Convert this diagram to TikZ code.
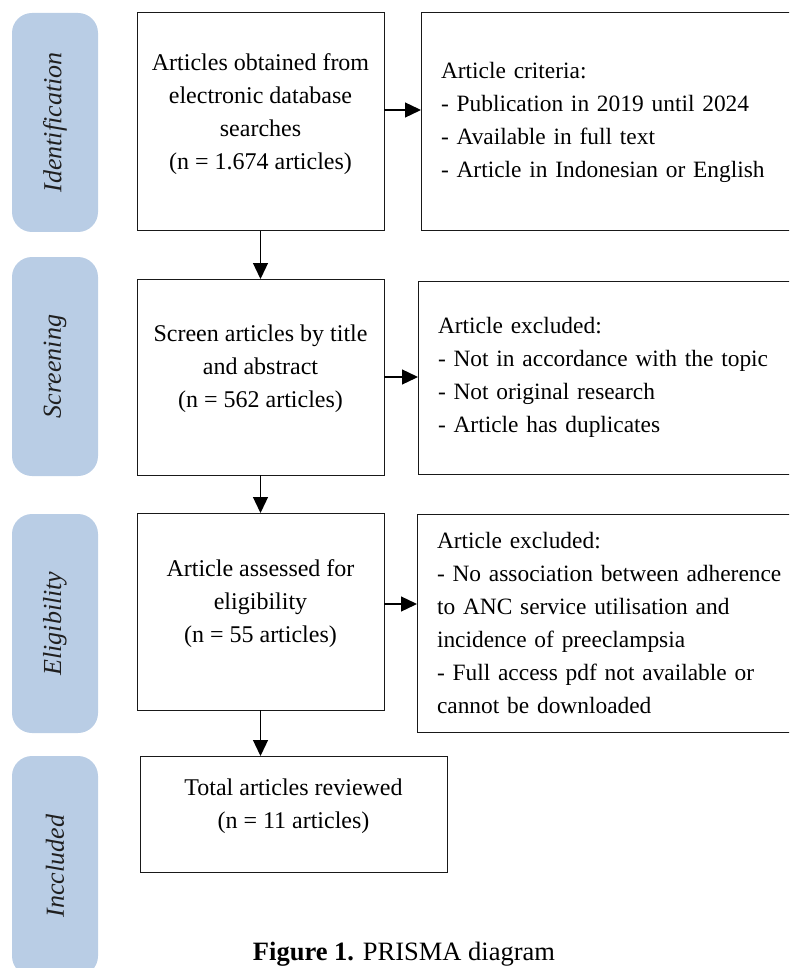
\documentclass[tikz,border=0pt]{standalone}
\usepackage{fontspec}
\setmainfont{Liberation Serif}
\usetikzlibrary{arrows.meta}
\definecolor{barblue}{HTML}{B9CDE5}
\tikzset{stagebar/.style={rotate=90,fill=barblue,rounded corners=20pt,minimum height=86pt,inner sep=0pt,text=black!88,font=\fontsize{26}{30}\selectfont\itshape}}
\tikzset{flowbox/.style={draw=black!90,line width=1pt,inner sep=0pt,outer sep=0pt}}
\tikzset{flowtext/.style={align=center,inner sep=0pt,font=\fontsize{24}{33}\selectfont}}
\tikzset{notebox/.style={draw=black!90,line width=1pt,anchor=west,align=left,text width=360pt,inner xsep=20pt,inner ysep=0pt,outer sep=0pt,font=\fontsize{23.4}{33}\selectfont}}
\tikzset{flowarrow/.style={line width=1.3pt,-{Triangle[length=16pt,width=15pt]}}}

\begin{document}
\begin{tikzpicture}[x=1pt,y=-1pt]
    \useasboundingbox (0,0) rectangle (789,968);
    \clip (0,0) rectangle (789,968);
    \node[stagebar,minimum width=219pt] (identbar) at (55,122.5) {Identification};
    \node[stagebar,minimum width=219pt] (screenbar) at (55,366.5) {Screening};
    \node[stagebar,minimum width=219pt] (eligbar) at (55,623.5) {Eligibility};
    \node[stagebar,minimum width=220pt] (inclbar) at (55,866) {Inccluded};
    \node[flowbox,minimum width=247pt,minimum height=218pt] (ident) at (260.5,122) {};
    \node[flowbox,minimum width=247pt,minimum height=196pt] (screen) at (260.5,377) {};
    \node[flowbox,minimum width=247pt,minimum height=197pt] (elig) at (260.5,611.5) {};
    \node[flowbox,minimum width=307pt,minimum height=116pt] (incl) at (293.5,814) {};
    \node[flowtext] (identtxt) at ([yshift=8pt]ident.center) {Articles obtained from\\electronic database\\searches\\(n = 1.674 articles)};
    \node[flowtext] (screentxt) at ([yshift=8pt]screen.center) {Screen articles by title\\and abstract\\(n = 562 articles)};
    \node[flowtext] (eligtxt) at ([yshift=8pt]elig.center) {Article assessed for\\eligibility\\(n = 55 articles)};
    \node[flowtext] (incltxt) at ([yshift=8pt]incl.center) {Total articles reviewed\\(n = 11 articles)};
    \node[notebox,minimum height=218pt] (identnote) at (421,122) {Article criteria:\\- Publication in 2019 until 2024\\- Available in full text\\- Article in Indonesian or English};
    \node[notebox,minimum height=193pt] (screennote) at (418,377.5) {Article excluded:\\- Not in accordance with the topic\\- Not original research\\- Article has duplicates};
    \node[notebox,minimum height=218pt] (elignote) at (417,623) {Article excluded:\\- No association between adherence\\to ANC service utilisation and\\incidence of preeclampsia\\- Full access pdf not available or\\cannot be downloaded};
    \coordinate (identout) at ([yshift=12pt]ident.east);
    \coordinate (screenout) at (screen.east);
    \coordinate (eligout) at ([yshift=7.5pt]elig.east);
    \draw[flowarrow] (identout) -- (identout -| identnote.west);
    \draw[flowarrow] (screenout) -- (screenout -| screennote.west);
    \draw[flowarrow] (eligout) -- (eligout -| elignote.west);
    \draw[flowarrow] (ident) -- (screen);
    \draw[flowarrow] (screen) -- (elig);
    \draw[flowarrow] (elig.south) -- (elig.south |- incl.north);
    \node[anchor=base,inner sep=0pt,font=\fontsize{26.5}{30}\selectfont] (caption) at (404,960) {\textbf{Figure 1.} PRISMA diagram};
\end{tikzpicture}
\end{document}
